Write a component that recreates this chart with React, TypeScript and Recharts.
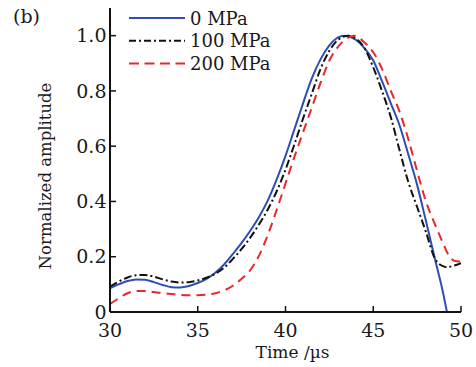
import { LineChart, Line, XAxis, YAxis, Label } from 'recharts'

// time (µs) and normalized amplitude, one pair of arrays per stress level
const TIME_0 = [
  30, 30.5, 31, 31.5, 32, 32.5, 33, 33.5, 34, 34.5, 35, 35.5, 36, 36.5, 37, 37.5, 38, 38.5, 39, 39.5,
  40, 40.5, 41, 41.5, 42, 42.5, 43, 43.3, 43.7, 44, 44.5, 45, 45.5, 46, 46.5, 47, 47.5, 48, 48.5, 49, 49.2,
]
const AMP_0 = [
  0.086, 0.1, 0.112, 0.118, 0.117, 0.108, 0.098, 0.09, 0.089, 0.094, 0.105, 0.12, 0.142, 0.172, 0.21,
  0.25, 0.295, 0.345, 0.405, 0.48, 0.565, 0.66, 0.755, 0.845, 0.915, 0.965, 0.994, 1.0, 0.995, 0.985,
  0.955, 0.91, 0.835, 0.755, 0.675, 0.57, 0.46, 0.33, 0.196, 0.063, 0,
]

const TIME_100 = [
  30, 30.5, 31, 31.5, 32, 32.5, 33, 33.5, 34, 34.5, 35, 35.5, 36, 36.5, 37, 37.5, 38, 38.5, 39, 39.5,
  40, 40.5, 41, 41.5, 42, 42.5, 43, 43.6, 44, 44.5, 45, 45.5, 46, 46.5, 47, 47.5, 48, 48.5, 49, 49.2, 49.6, 50,
]
const AMP_100 = [
  0.092, 0.11, 0.125, 0.133, 0.134, 0.128, 0.118, 0.11, 0.107, 0.108, 0.114, 0.124, 0.138, 0.16, 0.192,
  0.228, 0.27, 0.318, 0.372, 0.437, 0.515, 0.605, 0.7, 0.79, 0.88, 0.945, 0.985, 1.0, 0.99, 0.955, 0.885,
  0.8, 0.705, 0.585, 0.47, 0.38, 0.29, 0.195, 0.165, 0.162, 0.168, 0.177,
]

const TIME_200 = [
  30, 30.5, 31, 31.5, 32, 32.5, 33, 33.5, 34, 34.5, 35, 35.5, 36, 36.5, 37, 37.5, 38, 38.5, 39, 39.5,
  40, 40.5, 41, 41.5, 42, 42.5, 43, 43.5, 43.9, 44.5, 45, 45.5, 46, 46.5, 47, 47.5, 48, 48.5, 49, 49.3, 49.6, 50,
]
const AMP_200 = [
  0.029, 0.05, 0.068, 0.076, 0.076, 0.072, 0.068, 0.065, 0.062, 0.061, 0.061, 0.063, 0.068, 0.078, 0.095,
  0.12, 0.152, 0.205, 0.28, 0.37, 0.465, 0.56, 0.65, 0.74, 0.83, 0.91, 0.96, 0.99, 1.0, 0.975, 0.94,
  0.88, 0.8, 0.725, 0.625, 0.51, 0.4, 0.32, 0.245, 0.205, 0.186, 0.182,
]

const X_TICKS = [30, 35, 40, 45, 50]
const Y_TICKS = [0, 0.2, 0.4, 0.6, 0.8, 1.0]

const SERIES = [
  { name: '0 MPa', time: TIME_0, amp: AMP_0, color: '#2d4fb2', dash: undefined, legendDash: undefined },
  { name: '100 MPa', time: TIME_100, amp: AMP_100, color: '#111111', dash: '8 3 2 3', legendDash: '7 3 2 3' },
  { name: '200 MPa', time: TIME_200, amp: AMP_200, color: '#e8262b', dash: '9 6', legendDash: '10 5.5' },
]

const FONT = "'DejaVu Serif', 'Liberation Serif', serif"
const INK = '#1a1a1a'

const toPoints = (time: number[], amp: number[]) => time.map((t, i) => ({ t, a: amp[i] }))

function Legend() {
  return (
    <svg width={200} height={80} style={{ position: 'absolute', left: 120, top: 0 }}>
      {SERIES.map((s, i) => {
        const y = 18 + i * 22.7
        return (
          <g key={s.name}>
            <line x1={9} x2={65} y1={y} y2={y} stroke={s.color} strokeWidth={2} strokeDasharray={s.legendDash} />
            <text x={70} y={y + 6.5} fontFamily={FONT} fontSize={18} fill={INK}>
              {s.name}
            </text>
          </g>
        )
      })}
    </svg>
  )
}

export default function App() {
  return (
    <div style={{ position: 'absolute', left: 0, top: 0, width: 476, height: 367, background: '#fff' }}>
      <LineChart width={476} height={367} margin={{ top: 8, right: 15, bottom: 0, left: 0 }}>
        <XAxis
          type="number"
          dataKey="t"
          domain={[30, 50]}
          ticks={X_TICKS}
          allowDataOverflow
          height={55}
          tickSize={-6}
          tickMargin={18}
          axisLine={{ stroke: '#111', strokeWidth: 2 }}
          tickLine={{ stroke: '#111', strokeWidth: 1.5 }}
          tick={{ fill: INK, fontSize: 19, fontFamily: FONT }}
        >
          <Label
            content={({ viewBox }: any) => (
              <text
                x={viewBox.x + viewBox.width / 2 + 7}
                y={viewBox.y + 46}
                textAnchor="middle"
                fontFamily={FONT}
                fontSize={17}
                fill={INK}
              >
                Time /µs
              </text>
            )}
          />
        </XAxis>
        <YAxis
          type="number"
          domain={[0, 1.1]}
          ticks={Y_TICKS}
          allowDataOverflow
          width={110}
          tickSize={-6}
          tickMargin={9.5}
          tickFormatter={(v: number) => (v === 0 ? '0' : v.toFixed(1))}
          axisLine={{ stroke: '#111', strokeWidth: 2 }}
          tickLine={{ stroke: '#111', strokeWidth: 1.5 }}
          tick={{ fill: INK, fontSize: 19, fontFamily: FONT }}
        >
          <Label
            content={({ viewBox }: any) => {
              const cx = viewBox.x + 45
              const cy = viewBox.y + viewBox.height / 2 + 16
              return (
                <text
                  x={cx}
                  y={cy}
                  transform={`rotate(-90, ${cx}, ${cy})`}
                  textAnchor="middle"
                  dominantBaseline="central"
                  fontFamily={FONT}
                  fontSize={16.5}
                  fill={INK}
                >
                  Normalized amplitude
                </text>
              )
            }}
          />
        </YAxis>
        {SERIES.map((s) => (
          <Line
            key={s.name}
            data={toPoints(s.time, s.amp)}
            dataKey="a"
            name={s.name}
            type="monotone"
            stroke={s.color}
            strokeWidth={2}
            strokeDasharray={s.dash}
            dot={false}
            activeDot={false}
            isAnimationActive={false}
          />
        ))}
      </LineChart>
      <Legend />
      <div
        style={{
          position: 'absolute',
          left: 13,
          top: 4,
          fontFamily: FONT,
          fontSize: 19,
          color: INK,
          lineHeight: '24px',
        }}
      >
        (b)
      </div>
    </div>
  )
}
